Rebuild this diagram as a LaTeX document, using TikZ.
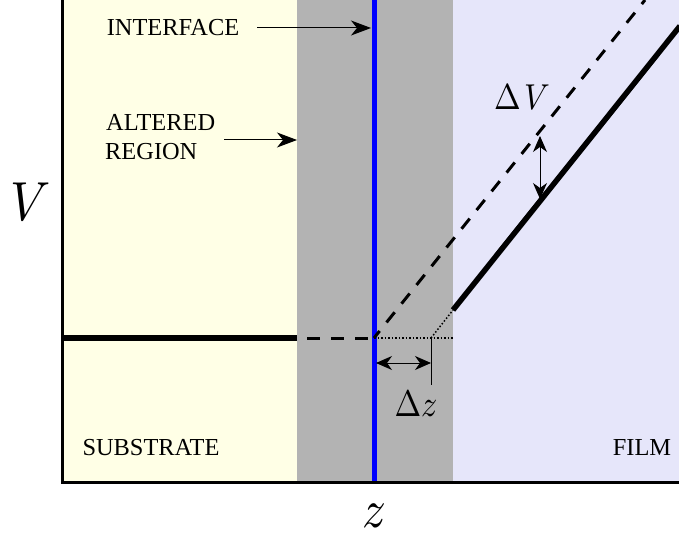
\documentclass[tikz,border=0pt]{standalone}
\usepackage{fontspec}
\setmainfont{Liberation Serif}
\usetikzlibrary{arrows.meta}
\definecolor{subst}{RGB}{255,255,230}
\definecolor{alt}{RGB}{179,179,179}
\definecolor{film}{RGB}{230,230,250}
\definecolor{iface}{RGB}{0,0,255}
\begin{document}
\begin{tikzpicture}[x=1pt,y=-1pt,
  lbl/.style={font=\fontsize{24.4}{30}\selectfont, inner sep=0pt},
  mathlbl/.style={inner sep=0pt, font=\fontsize{10}{12}\selectfont},
  callout/.style={-{Stealth[length=20pt,width=15pt,inset=6pt]}, line width=1pt},
  dbl/.style={{Stealth[length=16pt,width=14pt,inset=5pt]}-{Stealth[length=16pt,width=14pt,inset=5pt]}, line width=1pt},
  thickline/.style={line width=5.5pt},
  dashline/.style={line width=3pt, dash pattern=on 13pt off 11pt}]
\useasboundingbox (0,0) rectangle (679,537);
% regions
\fill[subst] (62,0) rectangle (297,482);
\fill[alt] (297,0) rectangle (453,482);
\fill[film] (453,0) rectangle (679,482);
% interface line
\draw[iface, line width=5pt] (374,0) -- (374,482);
% axes
\draw[line width=3pt] (62,0) -- (62,482) -- (679,482);
% coordinates
\coordinate (h0) at (62,338);
\coordinate (h1) at (297,338);
\coordinate (h2) at (307,338);
\coordinate (p0) at (374,338);
\coordinate (p1) at (645,0);
\coordinate (dz) at (431,338);
\coordinate (s0) at (453,310);
\coordinate (s1) at (680,26);
\coordinate (ge) at (453,338);
% lines
\draw[thickline] (h0) -- (h1);
\draw[dashline] (h2) -- (p0);
\draw[dashline, dash phase=4pt] (p0) -- (p1);
\draw[line width=1.5pt, dotted] (p0) -- (ge);
\draw[line width=1.5pt, dotted] (dz) -- (s0);
\draw[thickline] (s0) -- (s1);
% delta z
\coordinate (dzl) at (376,363);
\coordinate (dzr) at (431,363);
\coordinate (dzb) at (431,385);
\draw[line width=1pt] (dz) -- (dzb);
\draw[dbl] (dzl) -- (dzr);
\node[mathlbl, xscale=3.2, yscale=3.7] (dzlab) at (416,404) {$\Delta z$};
% delta V
\coordinate (dvt) at (540,136);
\coordinate (dvb) at (540,199);
\draw[dbl] (dvt) -- (dvb);
\node[mathlbl, xscale=3.2, yscale=3.6] (dvlab) at (522,97) {$\Delta\mkern2mu V$};
% labels
\node[lbl] (intf) at (173,28) {INTERFACE};
\coordinate (intfs) at (257,28);
\coordinate (intfend) at (371,28);
\draw[callout] (intfs) -- (intfend);
\node[lbl, anchor=west] (altr1) at (106,122) {ALTERED};
\node[lbl, anchor=west] (altr2) at (105,152) {REGION};
\coordinate (altrs) at (224,140);
\coordinate (altrend) at (297,140);
\draw[callout] (altrs) -- (altrend);
\node[lbl] (sub) at (151,448) {SUBSTRATE};
\node[lbl] (fil) at (642,448) {FILM};
\node[mathlbl, xscale=5, yscale=5.5] (vlab) at (31,202) {$V$};
\node[mathlbl, xscale=4.7, yscale=5.4] (zlab) at (374,516) {$z$};
\end{tikzpicture}
\end{document}
